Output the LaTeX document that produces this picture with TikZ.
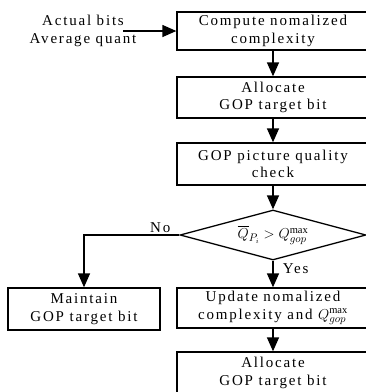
\documentclass[tikz,border=0pt]{standalone}
\usepackage{fontspec}
\setmainfont{Liberation Serif}[LetterSpace=12]
\usepackage{amsmath}
\usetikzlibrary{shapes.geometric, arrows.meta, positioning}

\begin{document}
\begin{tikzpicture}[x=1pt, y=-1pt, line width=1.3pt,
    font=\fontsize{15}{17.5}\selectfont,
    procbox/.style={draw, align=center, inner sep=0pt, minimum width=192pt, minimum height=41pt},
    decision/.style={draw, diamond, aspect=3.7, inner sep=0pt, minimum width=186pt, minimum height=50pt},
    flow/.style={-{Triangle[length=14pt, width=12pt]}}]
  \useasboundingbox (0,0) rectangle (366,392);
  \clip (0,0) rectangle (366,392);

  % Inputs
  \node[align=center, inner sep=0pt] (inputs) at (83, 31) {Actual bits\\Average quant};
  \coordinate (src) at (123, 31);

  % Main column
  \node[procbox, minimum height=38pt] (cnc) at (273, 31) {Compute nomalized\\complexity};
  \node[procbox] (alloc) at (273, 97.5) {Allocate\\GOP target bit};
  \node[procbox, minimum height=42pt] (qcheck) at (273, 164) {GOP picture quality\\check};
  \node[decision] (cmp) at (273, 235) {$\overline{Q}_{P_i} > Q_{gop}^{\max}$};
  \node[procbox, minimum height=40pt] (upd) at (273, 308) {Update nomalized\\complexity and $Q_{gop}^{\max}$};
  \node[procbox, minimum height=42pt] (realloc) at (273, 373) {Allocate\\GOP target bit};

  % No branch
  \node[procbox, minimum width=152pt, minimum height=42pt] (keep) at (84, 309) {Maintain\\GOP target bit};

  % Arrows
  \draw[flow] (src) -- (cnc.west);
  \draw[flow] (cnc) -- (alloc);
  \draw[flow] (alloc) -- (qcheck);
  \draw[flow] (qcheck) -- (cmp);
  \draw[flow] (cmp.west) -| node[pos=0.1, above, inner sep=1.5pt] {No} (keep.north);
  \draw[flow] (cmp.south) -- node[pos=0.3, right=6pt] {Yes} (upd.north);
  \draw[flow] (upd) -- (realloc);
\end{tikzpicture}
\end{document}
